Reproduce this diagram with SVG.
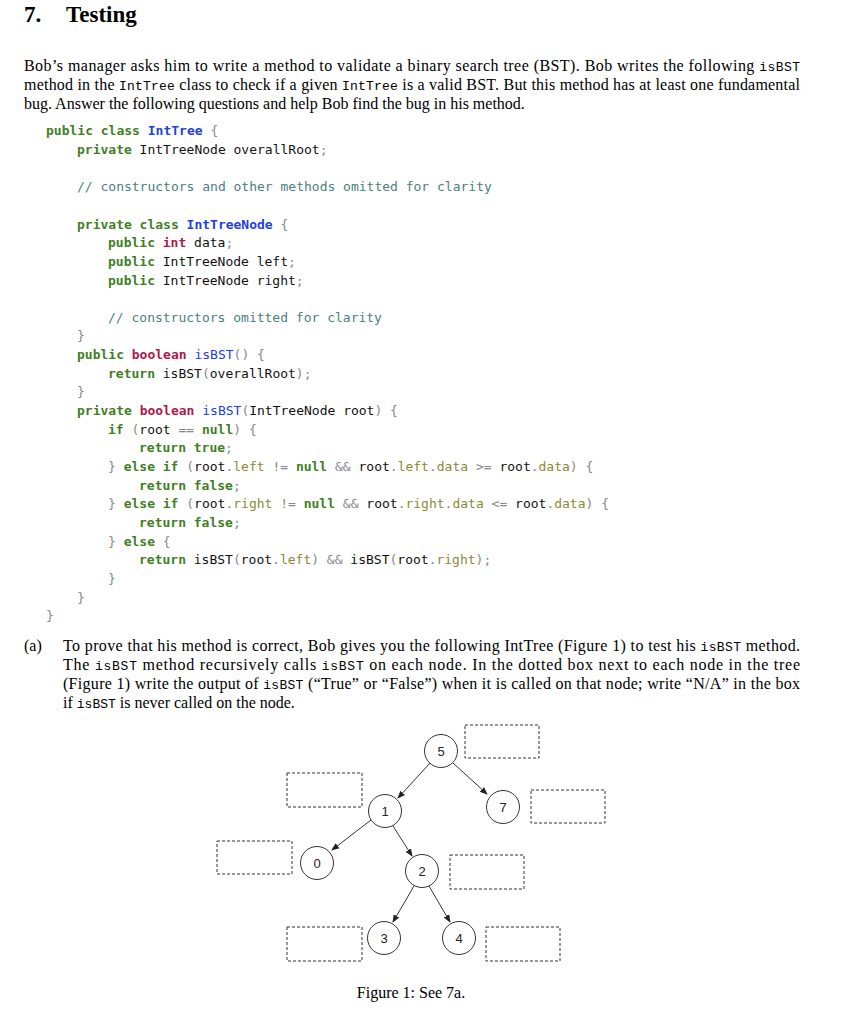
<svg xmlns="http://www.w3.org/2000/svg" width="847" height="1024" viewBox="0 0 847 1024">
<style>
.h{font:bold 23px "Liberation Serif",serif;fill:#000}
.s{font:16px "Liberation Serif",serif;fill:#000}
.m{font-family:"Liberation Mono",monospace;font-size:13px}
.code{font:13px "DejaVu Sans Mono","Liberation Mono",monospace;fill:#111}
.k{fill:#3f7f1f;font-weight:bold}
.t{fill:#b0174a;font-weight:bold}
.n{fill:#2040e0}
.nb{fill:#2040e0;font-weight:bold}
.f{fill:#8a8a35}
.c{fill:#4a8080}
.p{fill:#888}
.node circle{fill:#fff;stroke:#333;stroke-width:1}
.node text{font:13px "Liberation Sans",Arial,sans-serif;fill:#222;text-anchor:middle}
.box{fill:none;stroke:#333;stroke-width:1;stroke-dasharray:3,2}
.edge{stroke:#333;stroke-width:1;marker-end:url(#a)}
</style>
<defs><marker id="a" markerWidth="8" markerHeight="8" refX="7" refY="4" orient="auto" markerUnits="userSpaceOnUse"><path d="M0,0.8 L8,4 L0,7.2 z" fill="#222"/></marker></defs>
<rect width="847" height="1024" fill="#fff"/>
<text class="h" x="24" y="22">7.</text>
<text class="h" x="66" y="22">Testing</text>
<text class="s" x="24" y="71" textLength="776" lengthAdjust="spacing">Bob’s manager asks him to write a method to validate a binary search tree (BST). Bob writes the following <tspan class="m">isBST</tspan></text>
<text class="s" x="24" y="90" textLength="776" lengthAdjust="spacing">method in the <tspan class="m">IntTree</tspan> class to check if a given <tspan class="m">IntTree</tspan> is a valid BST. But this method has at least one fundamental</text>
<text class="s" x="24" y="109">bug. Answer the following questions and help Bob find the bug in his method.</text>
<g class="code" xml:space="preserve">
<text x="46" y="135"><tspan class="k">public class</tspan> <tspan class="nb">IntTree</tspan> <tspan class="p">{</tspan></text>
<text x="77" y="154"><tspan class="k">private</tspan> IntTreeNode overallRoot<tspan class="p">;</tspan></text>
<text x="77" y="191" class="c">// constructors and other methods omitted for clarity</text>
<text x="77" y="229"><tspan class="k">private class</tspan> <tspan class="nb">IntTreeNode</tspan> <tspan class="p">{</tspan></text>
<text x="108" y="247"><tspan class="k">public</tspan> <tspan class="t">int</tspan> data<tspan class="p">;</tspan></text>
<text x="108" y="266"><tspan class="k">public</tspan> IntTreeNode left<tspan class="p">;</tspan></text>
<text x="108" y="285"><tspan class="k">public</tspan> IntTreeNode right<tspan class="p">;</tspan></text>
<text x="108" y="322" class="c">// constructors omitted for clarity</text>
<text x="77" y="340" class="p">}</text>
<text x="77" y="359"><tspan class="k">public</tspan> <tspan class="t">boolean</tspan> <tspan class="n">isBST</tspan><tspan class="p">() {</tspan></text>
<text x="108" y="378"><tspan class="k">return</tspan> isBST<tspan class="p">(</tspan>overallRoot<tspan class="p">);</tspan></text>
<text x="77" y="396" class="p">}</text>
<text x="77" y="415"><tspan class="k">private</tspan> <tspan class="t">boolean</tspan> <tspan class="n">isBST</tspan><tspan class="p">(</tspan>IntTreeNode root<tspan class="p">) {</tspan></text>
<text x="108" y="434"><tspan class="k">if</tspan> <tspan class="p">(</tspan>root <tspan class="p">==</tspan> <tspan class="k">null</tspan><tspan class="p">) {</tspan></text>
<text x="139" y="452"><tspan class="k">return true</tspan><tspan class="p">;</tspan></text>
<text x="108" y="471"><tspan class="p">}</tspan> <tspan class="k">else if</tspan> <tspan class="p">(</tspan>root<tspan class="p">.</tspan><tspan class="f">left</tspan> <tspan class="p">!=</tspan> <tspan class="k">null</tspan> <tspan class="p">&amp;&amp;</tspan> root<tspan class="p">.</tspan><tspan class="f">left</tspan><tspan class="p">.</tspan><tspan class="f">data</tspan> <tspan class="p">&gt;=</tspan> root<tspan class="p">.</tspan><tspan class="f">data</tspan><tspan class="p">) {</tspan></text>
<text x="139" y="490"><tspan class="k">return false</tspan><tspan class="p">;</tspan></text>
<text x="108" y="508"><tspan class="p">}</tspan> <tspan class="k">else if</tspan> <tspan class="p">(</tspan>root<tspan class="p">.</tspan><tspan class="f">right</tspan> <tspan class="p">!=</tspan> <tspan class="k">null</tspan> <tspan class="p">&amp;&amp;</tspan> root<tspan class="p">.</tspan><tspan class="f">right</tspan><tspan class="p">.</tspan><tspan class="f">data</tspan> <tspan class="p">&lt;=</tspan> root<tspan class="p">.</tspan><tspan class="f">data</tspan><tspan class="p">) {</tspan></text>
<text x="139" y="527"><tspan class="k">return false</tspan><tspan class="p">;</tspan></text>
<text x="108" y="546"><tspan class="p">}</tspan> <tspan class="k">else</tspan> <tspan class="p">{</tspan></text>
<text x="139" y="564"><tspan class="k">return</tspan> isBST<tspan class="p">(</tspan>root<tspan class="p">.</tspan><tspan class="f">left</tspan><tspan class="p">) &amp;&amp;</tspan> isBST<tspan class="p">(</tspan>root<tspan class="p">.</tspan><tspan class="f">right</tspan><tspan class="p">);</tspan></text>
<text x="108" y="583" class="p">}</text>
<text x="77" y="602" class="p">}</text>
<text x="46" y="620" class="p">}</text>
</g>
<text class="s" x="24" y="651">(a)</text>
<text class="s" x="63" y="651" textLength="737" lengthAdjust="spacing">To prove that his method is correct, Bob gives you the following IntTree (Figure 1) to test his <tspan class="m">isBST</tspan> method.</text>
<text class="s" x="63" y="670" textLength="737" lengthAdjust="spacing">The <tspan class="m">isBST</tspan> method recursively calls <tspan class="m">isBST</tspan> on each node.  In the dotted box next to each node in the tree</text>
<text class="s" x="63" y="689" textLength="737" lengthAdjust="spacing">(Figure 1) write the output of <tspan class="m">isBST</tspan> (“True” or “False”) when it is called on that node; write “N/A” in the box</text>
<text class="s" x="63" y="708">if <tspan class="m">isBST</tspan> is never called on the node.</text>
<g id="connectors">
<line class="edge" x1="430" y1="763" x2="398" y2="798"/>
<line class="edge" x1="453" y1="763" x2="487" y2="794"/>
<line class="edge" x1="371" y1="820" x2="332" y2="850"/>
<line class="edge" x1="393" y1="826" x2="412" y2="856"/>
<line class="edge" x1="414" y1="886" x2="393" y2="922"/>
<line class="edge" x1="429" y1="886" x2="450" y2="922"/>
</g>
<g id="n5" class="node"><circle cx="441" cy="751" r="16.5"/><text x="441" y="755.5">5</text><rect class="box" x="465" y="725" width="74" height="33"/></g>
<g id="n1" class="node"><circle cx="385" cy="811" r="16.5"/><text x="385" y="815.5">1</text><rect class="box" x="287" y="773" width="75" height="34"/></g>
<g id="n7" class="node"><circle cx="503" cy="807" r="16.5"/><text x="503" y="811.5">7</text><rect class="box" x="531" y="790" width="74" height="33"/></g>
<g id="n0" class="node"><circle cx="317" cy="863" r="16.5"/><text x="317" y="867.5">0</text><rect class="box" x="217" y="841" width="75" height="33"/></g>
<g id="n2" class="node"><circle cx="422" cy="871" r="16.5"/><text x="422" y="875.5">2</text><rect class="box" x="450" y="855" width="74" height="34"/></g>
<g id="n3" class="node"><circle cx="384" cy="938" r="16.5"/><text x="384" y="942.5">3</text><rect class="box" x="287" y="927" width="75" height="34"/></g>
<g id="n4" class="node"><circle cx="459" cy="938" r="16.5"/><text x="459" y="942.5">4</text><rect class="box" x="486" y="927" width="74" height="34"/></g>
<text class="s" x="411" y="998" text-anchor="middle">Figure 1: See 7a.</text>
</svg>
